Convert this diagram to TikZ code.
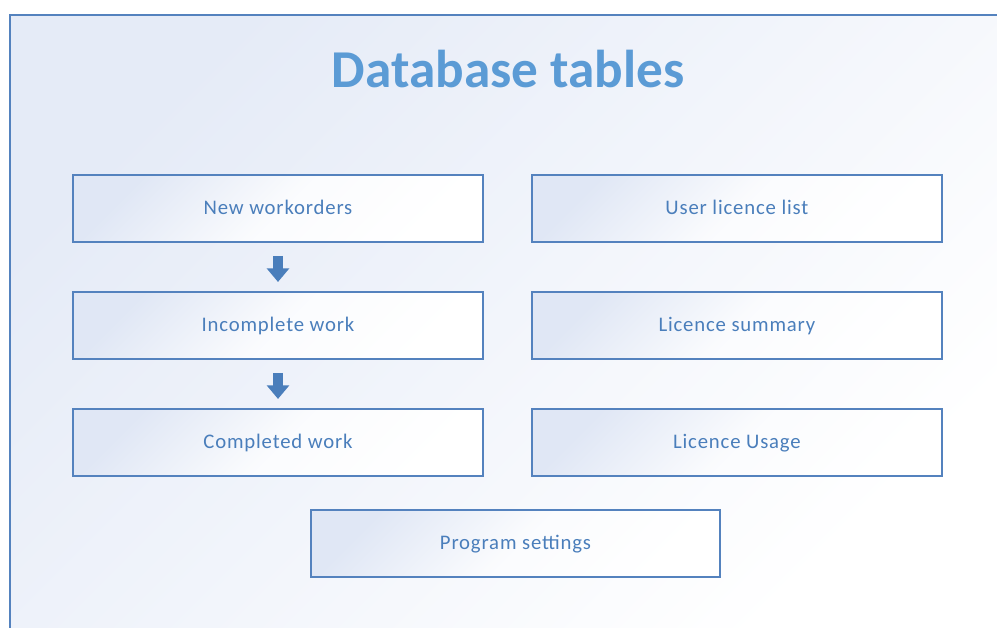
\documentclass[tikz,border=0pt]{standalone}
\usepackage{fontspec}
\setmainfont{Carlito}
\usetikzlibrary{arrows.meta,positioning}
\definecolor{titleblue}{RGB}{91,155,213}
\definecolor{lineblue}{RGB}{84,130,190}
\definecolor{textblue}{RGB}{74,126,187}
\definecolor{bgblue}{RGB}{229,235,247}
\definecolor{boxblue}{RGB}{224,231,245}
\tikzset{%
  dbtable/.style={draw=lineblue, line width=0.04cm, outer sep=0pt,
                  minimum width=8.2cm, minimum height=1.34cm,
                  top color=boxblue, bottom color=white, middle color=boxblue!15!white, shading angle=45,
                  text=textblue, font=\fontsize{11.8}{14}\selectfont\addfontfeature{LetterSpace=4},
                  text height=0.64em, text depth=0pt},
  flowdown/.style={draw=textblue, line width=6.2pt,
                   -{Triangle[length=7.8pt, width=12.5pt, fill=textblue]}},
}

\begin{document}
\begin{tikzpicture}[x=0.02cm, y=-0.02cm, node distance=1cm and 0.98cm]
    \useasboundingbox (0,0) rectangle (997,628);

    %background and frame
    \shade[top color=bgblue, bottom color=white, shading angle=45] (10,15) rectangle (997,628);
    \draw[lineblue, line width=0.04cm] (10,628) -- (10,15) -- (997,15);

    \node[anchor=base, text=titleblue, font=\fontsize{30.3}{36}\selectfont\bfseries] (title) at (508,88) {Database tables};

    %work tables
    \node[dbtable] (neworders) at (278,208.5) {New workorders};
    \node[dbtable, below=of neworders] (incomplete) {Incomplete work};
    \node[dbtable, below=of incomplete] (completed) {Completed work};

    %licence tables
    \node[dbtable, right=of neworders] (userlicence) {User licence list};
    \node[dbtable, right=of incomplete] (licsummary) {Licence summary};
    \node[dbtable, right=of completed] (licusage) {Licence Usage};

    \node[dbtable] (settings) at (515.5,543.5) {Program settings};

    \draw[flowdown, shorten <=0.28cm, shorten >=0.2cm] (neworders) -- (incomplete);
    \draw[flowdown, shorten <=0.28cm, shorten >=0.2cm] (incomplete) -- (completed);
\end{tikzpicture}
\end{document}
